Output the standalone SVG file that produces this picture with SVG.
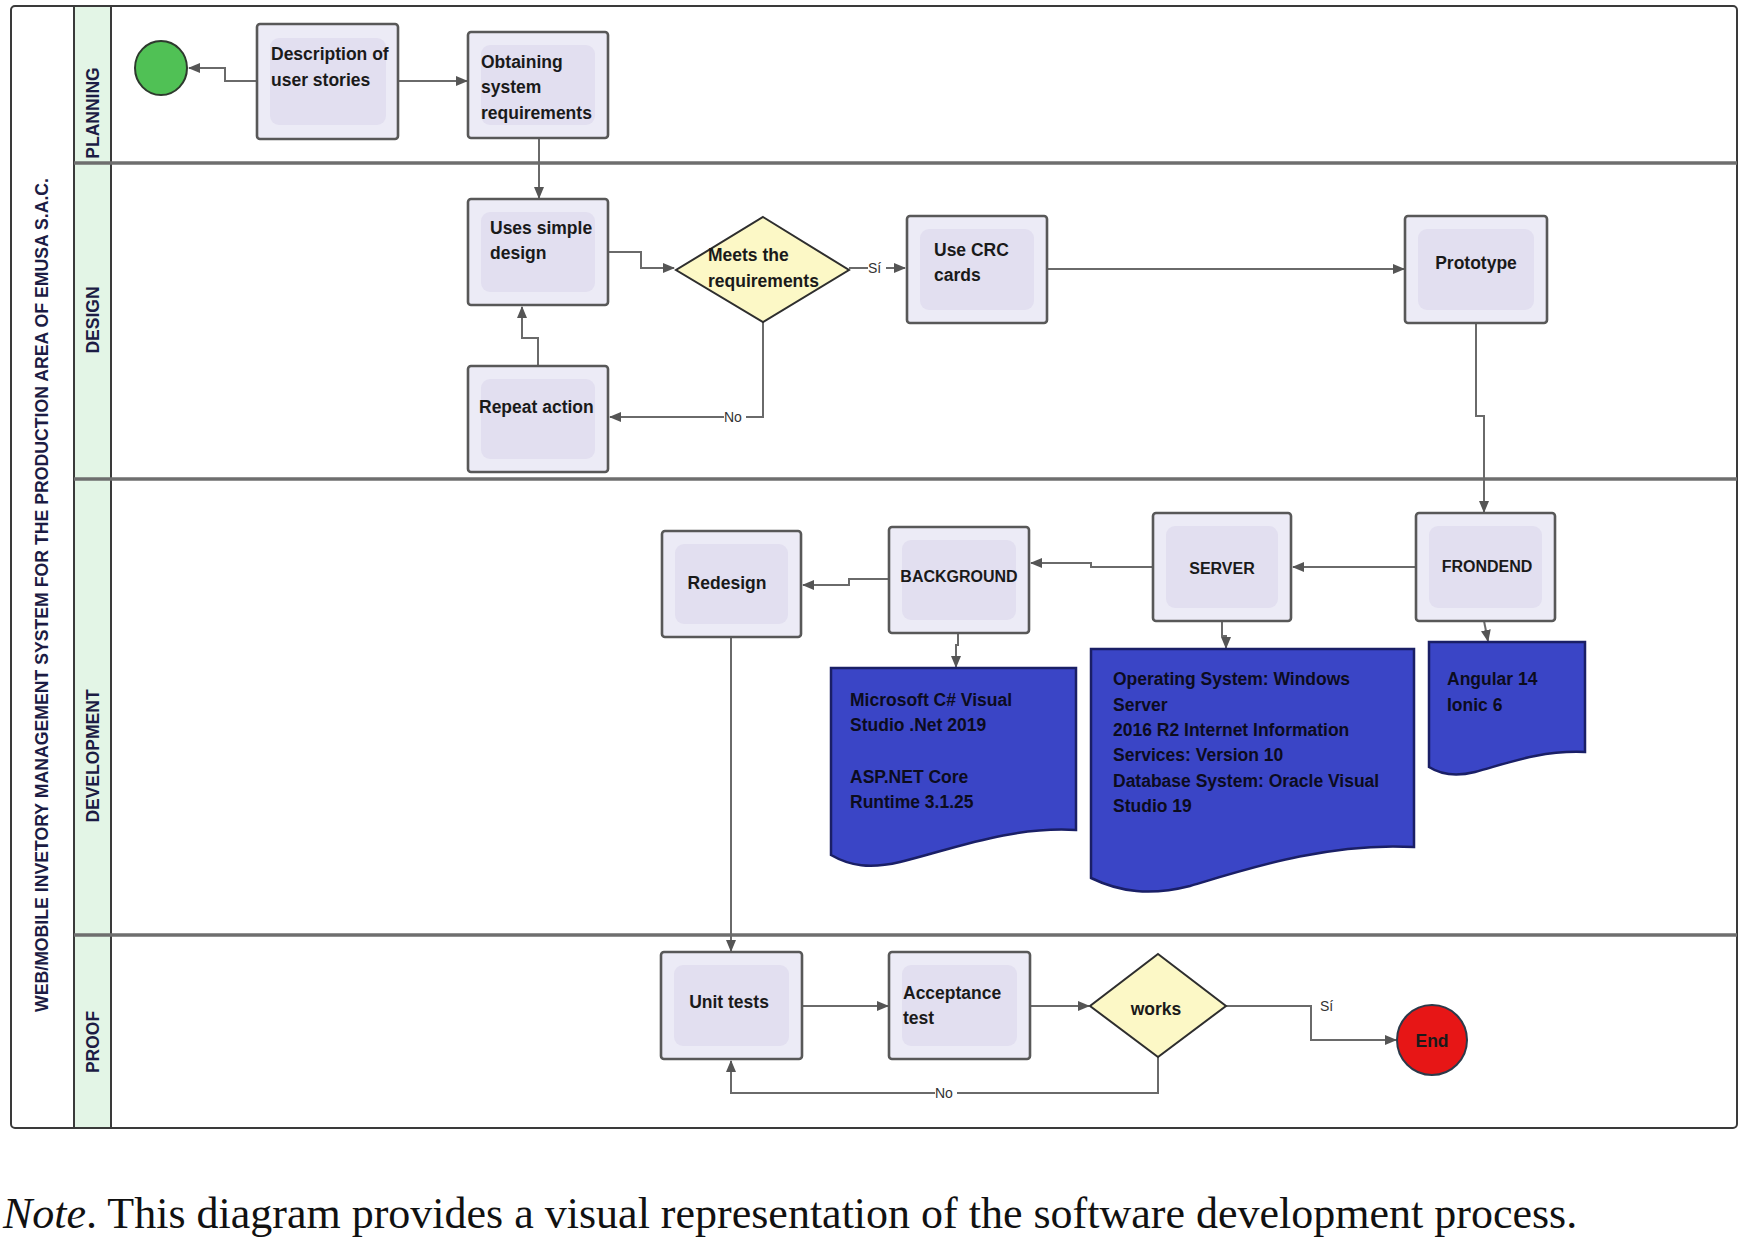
<svg xmlns="http://www.w3.org/2000/svg" width="1740" height="1244" viewBox="0 0 1740 1244">
<defs>
<style>
.frame{fill:#fff;stroke:#3a3a3a;stroke-width:2}
.lanecol{fill:#e3f5e6;stroke:none}
.vline{stroke:#3a3a3a;stroke-width:2;fill:none}
.hline{stroke:#6e6e6e;stroke-width:3.5;fill:none}
.box{fill:#ecebf6;stroke:#585858;stroke-width:2.6}
.inner{fill:#e2dff0;stroke:none}
.dia{fill:#fcf8c6;stroke:#2e2e2e;stroke-width:2}
.doc{fill:#3a45c6;stroke:#1a1f66;stroke-width:2.5}
.t{font-family:"Liberation Sans",Arial,sans-serif;font-weight:700;font-size:17.5px;fill:#1a1a1a}
.tc{font-family:"Liberation Sans",Arial,sans-serif;font-weight:700;font-size:16px;fill:#1a1a1a;text-anchor:middle}
.td{font-family:"Liberation Sans",Arial,sans-serif;font-weight:700;font-size:17.5px;fill:#0c0c1e}
.lane{font-family:"Liberation Sans",Arial,sans-serif;font-weight:700;font-size:17.5px;fill:#1c1c44;text-anchor:middle}
.lbl{font-family:"Liberation Sans",Arial,sans-serif;font-size:14px;fill:#333}
.conn{fill:none;stroke:#6a6a6a;stroke-width:2}
</style>
<marker id="arr" markerWidth="12" markerHeight="10" refX="11" refY="5" orient="auto" markerUnits="userSpaceOnUse">
<path d="M0,0 L12,5 L0,10 Z" fill="#555"/>
</marker>
</defs>

<g id="pool">
<rect class="frame" x="11" y="6" width="1726" height="1122" rx="4"/>
<rect class="lanecol" x="75" y="7" width="36" height="1120"/>
<line class="vline" x1="74" y1="6" x2="74" y2="1128"/>
<line class="vline" x1="111" y1="6" x2="111" y2="1128"/>
<line class="hline" x1="74" y1="163" x2="1737" y2="163"/>
<line class="hline" x1="74" y1="479" x2="1737" y2="479"/>
<line class="hline" x1="74" y1="935" x2="1737" y2="935"/>
<text class="lane" transform="translate(42,595) rotate(-90)" dy="6" font-size="18" textLength="834" lengthAdjust="spacingAndGlyphs">WEB/MOBILE INVETORY MANAGEMENT SYSTEM FOR THE PRODUCTION AREA OF EMUSA S.A.C.</text>
<text class="lane" transform="translate(93,113) rotate(-90)" dy="6">PLANNING</text>
<text class="lane" transform="translate(93,320) rotate(-90)" dy="6">DESIGN</text>
<text class="lane" transform="translate(93,756) rotate(-90)" dy="6">DEVELOPMENT</text>
<text class="lane" transform="translate(93,1042) rotate(-90)" dy="6">PROOF</text>
</g>

<g id="connectors">
<path class="conn" d="M257,81 H225 V68 H189" marker-end="url(#arr)"/>
<path class="conn" d="M399,81 H467" marker-end="url(#arr)"/>
<path class="conn" d="M539,138 V198" marker-end="url(#arr)"/>
<path class="conn" d="M608,252 H641 V268 H674" marker-end="url(#arr)"/>
<path class="conn" d="M849,268 H905" marker-end="url(#arr)"/>
<path class="conn" d="M1047,269 H1404" marker-end="url(#arr)"/>
<path class="conn" d="M763,322 V417 H610" marker-end="url(#arr)"/>
<path class="conn" d="M538,366 V338 H522 V307" marker-end="url(#arr)"/>
<path class="conn" d="M1476,323 V416 H1484 V512" marker-end="url(#arr)"/>
<path class="conn" d="M1416,567 H1293" marker-end="url(#arr)"/>
<path class="conn" d="M1153,567 H1091 V563 H1031" marker-end="url(#arr)"/>
<path class="conn" d="M889,579 H849 V585 H803" marker-end="url(#arr)"/>
<path class="conn" d="M958,633 V645 H956 V667" marker-end="url(#arr)"/>
<path class="conn" d="M1222,621 V636 H1226 V648" marker-end="url(#arr)"/>
<path class="conn" d="M1484,621 L1488,641" marker-end="url(#arr)"/>
<path class="conn" d="M731,637 V951" marker-end="url(#arr)"/>
<path class="conn" d="M802,1006 H888" marker-end="url(#arr)"/>
<path class="conn" d="M1030,1006 H1089" marker-end="url(#arr)"/>
<path class="conn" d="M1226,1006 H1311 V1040 H1396" marker-end="url(#arr)"/>
<path class="conn" d="M1158,1057 V1093 H731 V1061" marker-end="url(#arr)"/>
<rect x="868" y="259" width="18" height="16" fill="#fff"/>
<text class="lbl" x="868" y="273">Sí</text>
<rect x="724" y="409" width="22" height="16" fill="#fff"/>
<text class="lbl" x="724" y="422">No</text>
<text class="lbl" x="1320" y="1011">Sí</text>
<rect x="935" y="1085" width="22" height="16" fill="#fff"/>
<text class="lbl" x="935" y="1098">No</text>
</g>

<g id="start">
<ellipse cx="161" cy="68" rx="26" ry="27" fill="#50c155" stroke="#2d3a2d" stroke-width="2"/>
</g>

<g id="desc">
<rect class="box" x="257" y="24" width="141" height="115" rx="3"/>
<rect class="inner" x="270" y="38" width="116" height="87" rx="9"/>
<text class="t" x="271" y="60">Description of</text>
<text class="t" x="271" y="86">user stories</text>
</g>

<g id="obtain">
<rect class="box" x="468" y="32" width="140" height="106" rx="3"/>
<rect class="inner" x="481" y="45" width="114" height="80" rx="9"/>
<text class="t" x="481" y="68">Obtaining</text>
<text class="t" x="481" y="93">system</text>
<text class="t" x="481" y="119">requirements</text>
</g>

<g id="uses">
<rect class="box" x="468" y="199" width="140" height="106" rx="3"/>
<rect class="inner" x="481" y="212" width="114" height="80" rx="9"/>
<text class="t" x="490" y="234">Uses simple</text>
<text class="t" x="490" y="259">design</text>
</g>

<g id="repeat">
<rect class="box" x="468" y="366" width="140" height="106" rx="3"/>
<rect class="inner" x="481" y="379" width="114" height="80" rx="9"/>
<text class="t" x="479" y="413">Repeat action</text>
</g>

<g id="meets">
<polygon class="dia" points="763,217 849,270 763,322 676,270"/>
<text class="t" x="708" y="261">Meets the</text>
<text class="t" x="708" y="287">requirements</text>
</g>

<g id="crc">
<rect class="box" x="907" y="216" width="140" height="107" rx="3"/>
<rect class="inner" x="920" y="229" width="114" height="81" rx="9"/>
<text class="t" x="934" y="256">Use CRC</text>
<text class="t" x="934" y="281">cards</text>
</g>

<g id="prototype">
<rect class="box" x="1405" y="216" width="142" height="107" rx="3"/>
<rect class="inner" x="1418" y="229" width="116" height="81" rx="9"/>
<text class="t" x="1476" y="269" text-anchor="middle">Prototype</text>
</g>

<g id="frondend">
<rect class="box" x="1416" y="513" width="139" height="108" rx="3"/>
<rect class="inner" x="1429" y="526" width="113" height="82" rx="9"/>
<text class="tc" x="1487" y="572">FRONDEND</text>
</g>

<g id="server">
<rect class="box" x="1153" y="513" width="138" height="108" rx="3"/>
<rect class="inner" x="1166" y="526" width="112" height="82" rx="9"/>
<text class="tc" x="1222" y="574">SERVER</text>
</g>

<g id="background">
<rect class="box" x="889" y="527" width="140" height="106" rx="3"/>
<rect class="inner" x="902" y="540" width="114" height="80" rx="9"/>
<text class="tc" x="959" y="582">BACKGROUND</text>
</g>

<g id="redesign">
<rect class="box" x="662" y="531" width="139" height="106" rx="3"/>
<rect class="inner" x="675" y="544" width="113" height="80" rx="9"/>
<text class="t" x="727" y="589" text-anchor="middle">Redesign</text>
</g>

<g id="doc-background">
<path class="doc" d="M831,668 H1076 V830 C1010,826 950,850 900,862 C870,869 850,866 831,855 Z"/>
<text class="td" x="850" y="706">Microsoft C# Visual</text>
<text class="td" x="850" y="731">Studio .Net 2019</text>
<text class="td" x="850" y="783">ASP.NET Core</text>
<text class="td" x="850" y="808">Runtime 3.1.25</text>
</g>

<g id="doc-server">
<path class="doc" d="M1091,649 H1414 V847 C1330,842 1250,868 1190,886 C1150,896 1120,892 1091,878 Z"/>
<text class="td" x="1113" y="685">Operating System: Windows</text>
<text class="td" x="1113" y="711">Server</text>
<text class="td" x="1113" y="736">2016 R2 Internet Information</text>
<text class="td" x="1113" y="761">Services: Version 10</text>
<text class="td" x="1113" y="787">Database System: Oracle Visual</text>
<text class="td" x="1113" y="812">Studio 19</text>
</g>

<g id="doc-frondend">
<path class="doc" d="M1429,642 H1585 V752 C1540,750 1505,764 1475,772 C1455,777 1440,774 1429,767 Z"/>
<text class="td" x="1447" y="685">Angular 14</text>
<text class="td" x="1447" y="711">Ionic 6</text>
</g>

<g id="unit">
<rect class="box" x="661" y="952" width="141" height="107" rx="3"/>
<rect class="inner" x="674" y="965" width="115" height="81" rx="9"/>
<text class="t" x="729" y="1008" text-anchor="middle">Unit tests</text>
</g>

<g id="acceptance">
<rect class="box" x="889" y="952" width="141" height="107" rx="3"/>
<rect class="inner" x="902" y="965" width="115" height="81" rx="9"/>
<text class="t" x="903" y="999">Acceptance</text>
<text class="t" x="903" y="1024">test</text>
</g>

<g id="works">
<polygon class="dia" points="1158,954 1226,1006 1158,1057 1090,1006"/>
<text class="t" x="1156" y="1015" text-anchor="middle">works</text>
</g>

<g id="end">
<ellipse cx="1432" cy="1040" rx="35" ry="35" fill="#e71616" stroke="#2b3a4a" stroke-width="2"/>
<text class="t" x="1432" y="1047" text-anchor="middle" font-size="16" fill="#2a0000">End</text>
</g>

<g id="note">
<text x="3" y="1228" font-family="'Liberation Serif','Times New Roman',serif" font-size="44" fill="#111"><tspan font-style="italic">Note</tspan>. This diagram provides a visual representation of the software development process.</text>
</g>
</svg>
